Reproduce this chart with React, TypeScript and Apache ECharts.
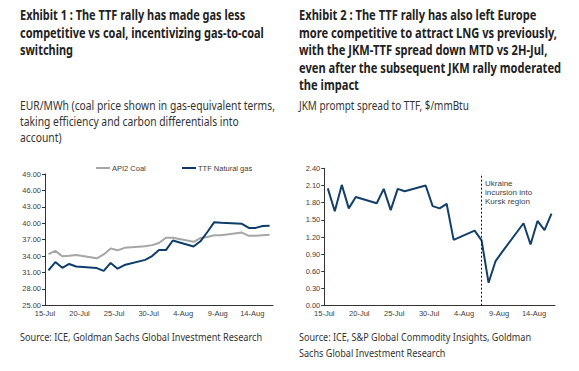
import React, { useEffect, useRef } from 'react';
import * as echarts from 'echarts';

// ---- data ----
const startDate = '2024-07-15';
const monthNames = ['Jan', 'Feb', 'Mar', 'Apr', 'May', 'Jun', 'Jul', 'Aug', 'Sep', 'Oct', 'Nov', 'Dec'];
const dates = [
  '2024-07-15', '2024-07-16', '2024-07-17', '2024-07-18', '2024-07-19',
  '2024-07-22', '2024-07-23', '2024-07-24', '2024-07-25', '2024-07-26',
  '2024-07-29', '2024-07-30', '2024-07-31', '2024-08-01', '2024-08-02',
  '2024-08-05', '2024-08-06', '2024-08-07', '2024-08-08', '2024-08-09',
  '2024-08-12', '2024-08-13', '2024-08-14', '2024-08-15', '2024-08-16',
];
const coal = [34.35, 34.95, 33.95, 34.05, 34.2, 33.6, 34.3, 35.4, 35.05, 35.5, 35.8, 36.0, 36.4, 37.35, 37.35, 36.6, 37.3, 37.5, 37.8, 37.8, 38.3, 37.7, 37.7, 37.8, 37.9];
const gas = [31.4, 32.9, 31.85, 32.55, 32.1, 31.8, 31.3, 32.75, 31.7, 32.35, 33.3, 34.0, 35.1, 35.1, 36.85, 35.75, 36.7, 38.4, 40.2, 40.1, 39.9, 39.15, 39.15, 39.5, 39.55];
const spread = [2.05, 1.65, 2.11, 1.7, 1.9, 1.79, 2.04, 1.67, 2.04, 2.0, 2.1, 1.74, 1.7, 1.78, 1.15, 1.31, 1.14, 0.4, 0.78, 0.95, 1.44, 1.07, 1.48, 1.32, 1.61];
const eventDate = '2024-08-06';
const eventTop = 2.27;
const eventLabel = 'Ukraine\nincursion into\nKursk region';

const title1 = ['Exhibit 1 : The TTF rally has made gas less', 'competitive vs coal, incentivizing gas-to-coal', 'switching'];
const title2 = ['Exhibit 2 : The TTF rally has also left Europe', 'more competitive to attract LNG vs previously,', 'with the JKM-TTF spread down MTD vs 2H-Jul,', 'even after the subsequent JKM rally moderated', 'the impact'];
const sub1 = ['EUR/MWh (coal price shown in gas-equivalent terms,', 'taking efficiency and carbon differentials into', 'account)'];
const sub2 = ['JKM prompt spread to TTF, $/mmBtu'];
const src1 = ['Source: ICE, Goldman Sachs Global Investment Research'];
const src2 = ['Source: ICE, S&P Global Commodity Insights, Goldman', 'Sachs Global Investment Research'];

const DAY = 86400000;
const dayOffset = (d: string) => (Date.parse(d) - Date.parse(startDate)) / DAY;
const fmtDay = (v: number) => {
  if (Math.abs(v % 5) > 1e-6) return '';
  const dt = new Date(Date.parse(startDate) + v * DAY);
  return `${dt.getUTCDate()}-${monthNames[dt.getUTCMonth()]}`;
};

const FONT = 'Noto Sans';

function blockScale(lines: string[], targets: number[], size: number, weight: string) {
  const ctx = document.createElement('canvas').getContext('2d');
  if (!ctx) return 1;
  ctx.font = `${weight} ${size}px "${FONT}"`;
  let m = 0;
  let t = 0;
  targets.forEach((tw, i) => {
    if (tw > 0) {
      m += ctx.measureText(lines[i]).width;
      t += tw;
    }
  });
  return m > 0 ? t / m : 1;
}

function textBlock(lines: string[], x: number, y0: number, lh: number, size: number, weight: string, fill: string, targets: number[]) {
  const s = blockScale(lines, targets, size, weight);
  return lines.map((line, i) => ({
    type: 'text',
    x,
    y: y0 + i * lh,
    scaleX: s,
    silent: true,
    style: {
      text: line,
      fontSize: size,
      fontWeight: weight,
      fontFamily: FONT,
      fill,
      align: 'left',
      verticalAlign: 'middle',
    },
  }));
}

export default function App() {
  const ref = useRef<HTMLDivElement>(null);
  useEffect(() => {
    if (!ref.current) return;
    const chart = echarts.init(ref.current, undefined, { renderer: 'svg' });
    const axisFont = { fontSize: 7.5, color: '#404040', fontFamily: 'Liberation Sans' };
    const xAxisCommon = {
      type: 'value',
      min: 0,
      max: 33,
      interval: 5,
      axisLine: { show: true, lineStyle: { color: '#333', width: 1 } },
      axisTick: { show: false },
      splitLine: { show: false },
      axisLabel: { ...axisFont, margin: 4, formatter: fmtDay, showMaxLabel: false },
    };
    const yAxisCommon = {
      type: 'value',
      axisLine: { show: true, lineStyle: { color: '#333', width: 1 } },
      axisTick: { show: true, length: 3, lineStyle: { color: '#333' } },
      splitLine: { show: false },
    };
    const pos = (d: string) => dayOffset(d) + 0.5;

    const graphics = [
      ...textBlock(title1, 20, 15, 17.6, 13.5, 'bold', '#222', [222.7, 247, 0]),
      ...textBlock(title2, 299, 15, 17.6, 13.5, 'bold', '#222', [239, 257, 249, 261, 0]),
      ...textBlock(sub1, 20, 105.5, 15.6, 12, 'normal', '#333', [255, 219, 0]),
      ...textBlock(sub2, 299, 105.5, 15.6, 12, 'normal', '#333', [170]),
      ...textBlock(src1, 20, 336.5, 15.6, 11.5, 'normal', '#333', [242.5]),
      ...textBlock(src2, 299, 336.5, 15.6, 11.5, 'normal', '#333', [231, 147.5]),
      {
        type: 'text',
        x: 485,
        y: 179,
        silent: true,
        style: {
          text: eventLabel,
          fontSize: 8,
          lineHeight: 9,
          fontFamily: 'Liberation Sans',
          fill: '#404040',
          align: 'left',
          verticalAlign: 'top',
        },
      },
    ];

    chart.setOption({
      animation: false,
      backgroundColor: '#fff',
      grid: [
        { left: 45, top: 174, width: 228, height: 131.3 },
        { left: 324.3, top: 168.3, width: 230.7, height: 137.4 },
      ],
      legend: [
        {
          left: 91, top: 159, data: ['API2 Coal'], icon: 'rect', itemWidth: 14, itemHeight: 2,
          itemGap: 0, textStyle: { ...axisFont, padding: [0, 0, 0, -3] },
        },
        {
          left: 177, top: 159, data: ['TTF Natural gas'], icon: 'rect', itemWidth: 14, itemHeight: 2,
          itemGap: 0, textStyle: { ...axisFont, padding: [0, 0, 0, -3] },
        },
      ],
      xAxis: [
        { ...xAxisCommon, gridIndex: 0 },
        { ...xAxisCommon, gridIndex: 1 },
      ],
      yAxis: [
        {
          ...yAxisCommon, gridIndex: 0, min: 25, max: 49, interval: 3,
          axisLabel: { ...axisFont, margin: 4, formatter: (v: number) => v.toFixed(2) },
        },
        {
          ...yAxisCommon, gridIndex: 1, min: 0, max: 2.4, interval: 0.3,
          axisLabel: { ...axisFont, margin: 4, formatter: (v: number) => v.toFixed(2) },
        },
      ],
      series: [
        {
          name: 'API2 Coal', type: 'line', xAxisIndex: 0, yAxisIndex: 0, showSymbol: false, symbol: 'none',
          lineStyle: { color: '#a6a6a6', width: 2 }, itemStyle: { color: '#a6a6a6' },
          data: dates.map((d, i) => [pos(d), coal[i]]),
        },
        {
          name: 'TTF Natural gas', type: 'line', xAxisIndex: 0, yAxisIndex: 0, showSymbol: false, symbol: 'none',
          lineStyle: { color: '#0f3d6a', width: 2 }, itemStyle: { color: '#0f3d6a' },
          data: dates.map((d, i) => [pos(d), gas[i]]),
        },
        {
          name: 'JKM-TTF', type: 'line', xAxisIndex: 1, yAxisIndex: 1, showSymbol: false, symbol: 'none',
          lineStyle: { color: '#133f68', width: 2 }, itemStyle: { color: '#133f68' },
          data: dates.map((d, i) => [pos(d), spread[i]]),
          markLine: {
            silent: true,
            symbol: 'none',
            label: { show: false },
            lineStyle: { color: '#111', width: 1, type: [2, 2] },
            data: [[{ coord: [pos(eventDate), 0] }, { coord: [pos(eventDate), eventTop] }]],
          },
        },
      ],
      graphic: graphics,
    });
    return () => chart.dispose();
  }, []);
  return <div ref={ref} style={{ position: 'fixed', left: 0, top: 0, width: 579, height: 371, background: '#fff' }} />;
}
